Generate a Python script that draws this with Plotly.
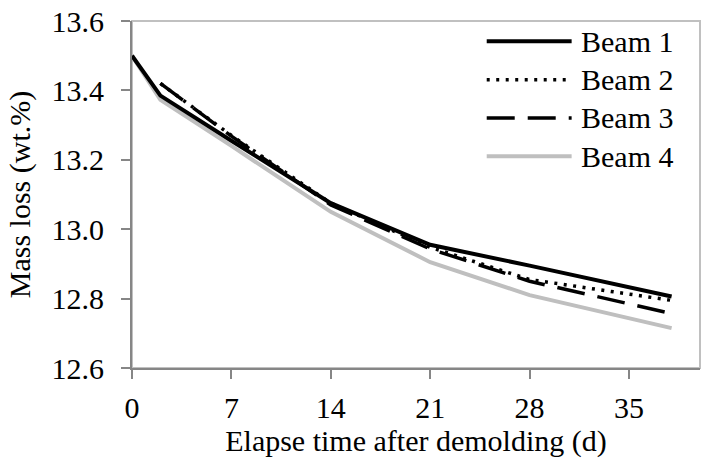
import plotly.graph_objects as go

# ---- data ----
days_a = [0, 2, 7, 14, 21, 28, 38]          # Beam 1 and Beam 4
days_b = [2, 7, 14, 21, 28, 38]             # Beam 2 and Beam 3
beam1 = [13.50, 13.385, 13.255, 13.075, 12.955, 12.895, 12.806]
beam2 = [13.42, 13.27, 13.075, 12.948, 12.855, 12.795]
beam3 = [13.42, 13.268, 13.07, 12.943, 12.85, 12.757]
beam4 = [13.50, 13.373, 13.24, 13.05, 12.905, 12.81, 12.715]
names = ["Beam 1", "Beam 2", "Beam 3", "Beam 4"]
x_ticks = [0, 7, 14, 21, 28, 35]
y_ticks = [12.6, 12.8, 13.0, 13.2, 13.4, 13.6]

FONT = "Liberation Serif"
FS = 30
AXC = "#868686"

styles = [
    dict(color="#000000", width=4, dash="solid"),
    dict(color="#000000", width=3.5, dash="3px,6.5px"),
    dict(color="#000000", width=3.5, dash="28px,13px"),
    dict(color="#BFBFBF", width=4, dash="solid"),
]
series = [(days_a, beam1), (days_b, beam2), (days_b, beam3), (days_a, beam4)]

fig = go.Figure()
order = [3, 0, 1, 2]
for i in order:
    xs, ys = series[i]
    fig.add_trace(go.Scatter(x=xs, y=ys, mode="lines", name=names[i],
                             line=styles[i], showlegend=False, hoverinfo="skip"))

fig.add_shape(type="rect", xref="paper", yref="paper", x0=0, y0=0, x1=1, y1=1,
              line=dict(color="#C0C0C0", width=2), layer="below")

lx0, lx1, ltx = 0.6245, 0.774, 0.7875
ly_top, ly_step = 0.9415, 0.1105
for k, nm in enumerate(names):
    yy = ly_top - k * ly_step
    fig.add_shape(type="line", xref="paper", yref="paper", x0=lx0, x1=lx1, y0=yy, y1=yy,
                  line=styles[k])
    fig.add_annotation(xref="paper", yref="paper", x=ltx, y=yy, text=nm,
                       showarrow=False, xanchor="left", yanchor="middle",
                       font=dict(family=FONT, size=FS, color="#000000"))

fig.update_layout(
    width=711, height=465,
    margin=dict(l=132, r=11, t=21, b=97),
    paper_bgcolor="white", plot_bgcolor="white",
    font=dict(family=FONT, size=FS, color="#000000"),
    xaxis=dict(range=[0, 40], tickvals=x_ticks, ticks="outside", ticklen=9,
               tickwidth=2, tickcolor=AXC, showline=True, linecolor=AXC, linewidth=2,
               showgrid=False, zeroline=False, ticklabelstandoff=3, automargin=False,
               title=dict(text="Elapse time after demolding (d)", standoff=2,
                          font=dict(family=FONT, size=FS))),
    yaxis=dict(range=[12.6, 13.6], tickvals=y_ticks, tickformat=".1f", ticks="outside",
               ticklen=9, tickwidth=2, tickcolor=AXC, showline=True, linecolor=AXC,
               linewidth=2, showgrid=False, zeroline=False, ticklabelstandoff=11,
               automargin=False,
               title=dict(text="Mass loss (wt.%)", standoff=12,
                          font=dict(family=FONT, size=FS))),
)

fig.write_html("out.html", config={"displayModeBar": False},
               post_script="document.body.style.margin='0';")
